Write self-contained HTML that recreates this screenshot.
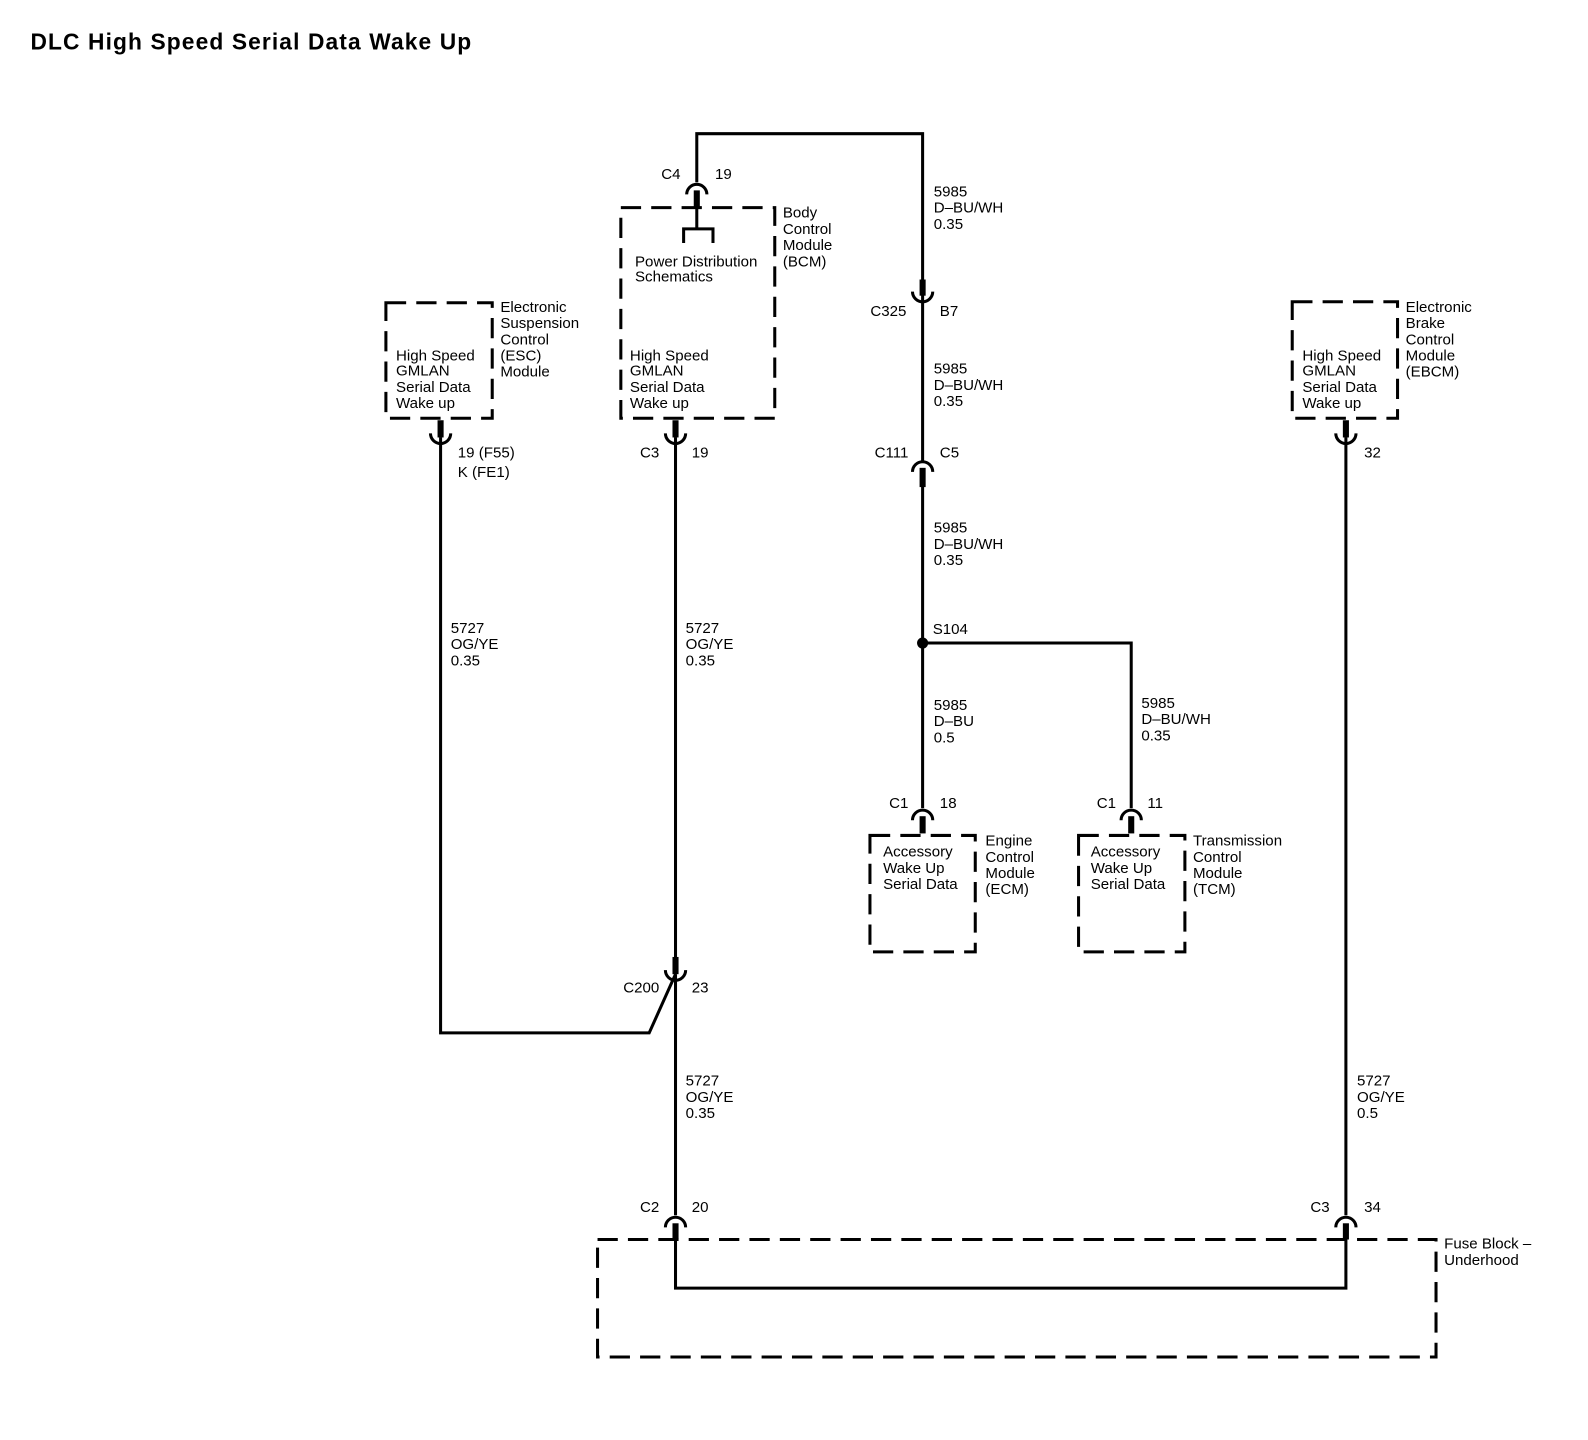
<!DOCTYPE html>
<html><head><meta charset="utf-8"><style>
html,body{margin:0;padding:0;background:#fff;}
svg{display:block;}
text{font-family:"Liberation Sans",Arial,sans-serif;font-size:14.9px;fill:#000;}
.t{font-size:22.5px;font-weight:bold;letter-spacing:1.1px;}
.w{stroke:#000;stroke-width:3;fill:none;}
.b{stroke:#000;stroke-width:3;fill:none;stroke-dasharray:20 10;}
.s{stroke:#000;stroke-width:6;}
.a{stroke:#000;stroke-width:3;fill:none;}
.r{text-anchor:end;}
</style></head><body>
<svg width="1588" height="1440" viewBox="0 0 1568 1422" xmlns="http://www.w3.org/2000/svg">
<text class="t" x="30" y="49">DLC High Speed Serial Data Wake Up</text>

<polyline class="w" points="688,180 688,132 911,132 911,280"/>
<line class="w" x1="911" y1="290" x2="911" y2="455"/>
<line class="w" x1="911" y1="465" x2="911" y2="798"/>
<polyline class="w" points="911,635 1117,635 1117,798"/>
<circle cx="911" cy="635" r="5.5" fill="#000"/>
<polyline class="w" points="435,432 435,1020 641,1020 667,962"/>
<line class="w" x1="667" y1="432" x2="667" y2="952"/>
<line class="w" x1="667" y1="962" x2="667" y2="1200"/>
<line class="w" x1="1329" y1="432" x2="1329" y2="1200"/>
<polyline class="w" points="667,1210 667,1272 1329,1272 1329,1210"/>

<g>
<path class="a" d="M678,192 A10,10 0 0 1 698,192"/><line class="s" x1="688" y1="188" x2="688" y2="205"/>
<path class="a" d="M901,466 A10,10 0 0 1 921,466"/><line class="s" x1="911" y1="462" x2="911" y2="481"/>
<path class="a" d="M901,810 A10,10 0 0 1 921,810"/><line class="s" x1="911" y1="806" x2="911" y2="823"/>
<path class="a" d="M1107,810 A10,10 0 0 1 1127,810"/><line class="s" x1="1117" y1="806" x2="1117" y2="823"/>
<path class="a" d="M657,1212 A10,10 0 0 1 677,1212"/><line class="s" x1="667" y1="1208" x2="667" y2="1224"/>
<path class="a" d="M1319,1212 A10,10 0 0 1 1339,1212"/><line class="s" x1="1329" y1="1208" x2="1329" y2="1224"/>
</g>
<g>
<path class="a" d="M901,288 A10,10 0 0 0 921,288"/><line class="s" x1="911" y1="276" x2="911" y2="292"/>
<path class="a" d="M425,428 A10,10 0 0 0 445,428"/><line class="s" x1="435" y1="415" x2="435" y2="432"/>
<path class="a" d="M657,428 A10,10 0 0 0 677,428"/><line class="s" x1="667" y1="415" x2="667" y2="432"/>
<path class="a" d="M1319,428 A10,10 0 0 0 1339,428"/><line class="s" x1="1329" y1="415" x2="1329" y2="432"/>
<path class="a" d="M657,958 A10,10 0 0 0 677,958"/><line class="s" x1="667" y1="945" x2="667" y2="962"/>
</g>

<line class="w" x1="688" y1="205" x2="688" y2="226"/>
<polyline class="w" points="675,240 675,226 704,226 704,240"/>

<rect class="b" x="381" y="299" width="105" height="114"/>
<rect class="b" x="613" y="205" width="152" height="208"/>
<rect class="b" x="1276" y="298" width="104" height="115"/>
<rect class="b" x="859" y="825" width="104" height="115"/>
<rect class="b" x="1065" y="825" width="105" height="115"/>
<rect class="b" x="590" y="1224" width="828" height="116"/>

<text x="922" y="194">5985</text><text x="922" y="210">D–BU/WH</text><text x="922" y="226">0.35</text>
<text x="922" y="369">5985</text><text x="922" y="385">D–BU/WH</text><text x="922" y="401">0.35</text>
<text x="922" y="526">5985</text><text x="922" y="542">D–BU/WH</text><text x="922" y="558">0.35</text>
<text x="922" y="701">5985</text><text x="922" y="717">D–BU</text><text x="922" y="733">0.5</text>
<text x="1127" y="699">5985</text><text x="1127" y="715">D–BU/WH</text><text x="1127" y="731">0.35</text>
<text x="445" y="625">5727</text><text x="445" y="641">OG/YE</text><text x="445" y="657">0.35</text>
<text x="677" y="625">5727</text><text x="677" y="641">OG/YE</text><text x="677" y="657">0.35</text>
<text x="677" y="1072">5727</text><text x="677" y="1088">OG/YE</text><text x="677" y="1104">0.35</text>
<text x="1340" y="1072">5727</text><text x="1340" y="1088">OG/YE</text><text x="1340" y="1104">0.5</text>

<text class="r" x="672" y="177">C4</text><text x="706" y="177">19</text>
<text class="r" x="895" y="312">C325</text><text x="928" y="312">B7</text>
<text class="r" x="897" y="452">C111</text><text x="928" y="452">C5</text>
<text class="r" x="651" y="452">C3</text><text x="683" y="452">19</text>
<text x="452" y="452">19 (F55)</text><text x="452" y="471">K (FE1)</text>
<text x="1347" y="452">32</text>
<text x="921" y="626">S104</text>
<text class="r" x="897" y="798">C1</text><text x="928" y="798">18</text>
<text class="r" x="1102" y="798">C1</text><text x="1133" y="798">11</text>
<text class="r" x="651" y="980">C200</text><text x="683" y="980">23</text>
<text class="r" x="651" y="1197">C2</text><text x="683" y="1197">20</text>
<text class="r" x="1313" y="1197">C3</text><text x="1347" y="1197">34</text>

<text x="494" y="308">Electronic</text><text x="494" y="324">Suspension</text><text x="494" y="340">Control</text><text x="494" y="356">(ESC)</text><text x="494" y="372">Module</text>
<text x="391" y="356">High Speed</text><text x="391" y="371">GMLAN</text><text x="391" y="387">Serial Data</text><text x="391" y="403">Wake up</text>
<text x="773" y="215">Body</text><text x="773" y="231">Control</text><text x="773" y="247">Module</text><text x="773" y="263">(BCM)</text>
<text x="627" y="263">Power Distribution</text><text x="627" y="278">Schematics</text>
<text x="622" y="356">High Speed</text><text x="622" y="371">GMLAN</text><text x="622" y="387">Serial Data</text><text x="622" y="403">Wake up</text>
<text x="1388" y="308">Electronic</text><text x="1388" y="324">Brake</text><text x="1388" y="340">Control</text><text x="1388" y="356">Module</text><text x="1388" y="372">(EBCM)</text>
<text x="1286" y="356">High Speed</text><text x="1286" y="371">GMLAN</text><text x="1286" y="387">Serial Data</text><text x="1286" y="403">Wake up</text>
<text x="872" y="846">Accessory</text><text x="872" y="862">Wake Up</text><text x="872" y="878">Serial Data</text>
<text x="973" y="835">Engine</text><text x="973" y="851">Control</text><text x="973" y="867">Module</text><text x="973" y="883">(ECM)</text>
<text x="1077" y="846">Accessory</text><text x="1077" y="862">Wake Up</text><text x="1077" y="878">Serial Data</text>
<text x="1178" y="835">Transmission</text><text x="1178" y="851">Control</text><text x="1178" y="867">Module</text><text x="1178" y="883">(TCM)</text>
<text x="1426" y="1233">Fuse Block –</text><text x="1426" y="1249">Underhood</text>
</svg>
</body></html>
